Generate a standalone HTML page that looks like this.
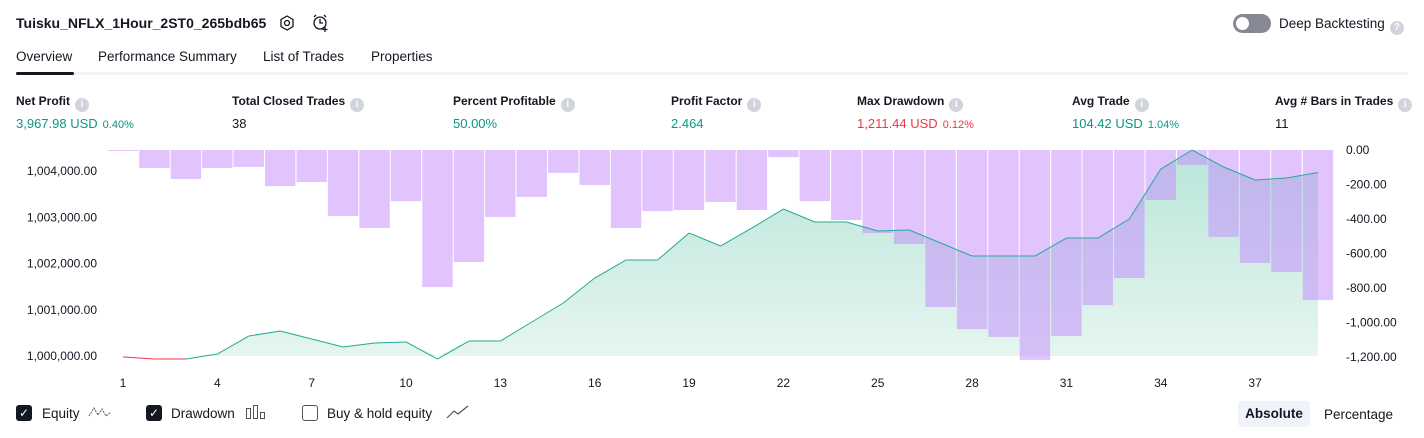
<!DOCTYPE html>
<html><head><meta charset="utf-8">
<style>
body{margin:0;width:1424px;height:438px;background:#fff;font-family:"Liberation Sans",sans-serif;color:#131722;position:relative;overflow:hidden}
.a{position:absolute;white-space:nowrap}
.lbl{font-size:12px;font-weight:bold;color:#131722}
.val{font-size:13px}
.g{color:#089981}.r{color:#f23645}
.pct{font-size:11px;margin-left:5px}
.info{display:inline-block;width:14px;height:14px;border-radius:50%;background:#d1d4dc;color:#fff;font-size:10px;text-align:center;line-height:14px;vertical-align:-2px;margin-left:5px;font-weight:bold}
.cb{width:16px;height:16px;border-radius:3px;background:#131722;color:#fff;font-size:12px;text-align:center;line-height:16px}
.cbu{width:14px;height:14px;border-radius:3px;border:1px solid #50535e;background:#fff}
.tab{font-size:13.5px;color:#131722}
</style></head><body>
<div class="a" style="left:16px;top:15px;font-size:14px;font-weight:bold">Tuisku_NFLX_1Hour_2ST0_265bdb65</div>
<svg class="a" style="left:278px;top:14px" width="18" height="18"><polygon points="9,2 15,5.5 15,12.5 9,16 3,12.5 3,5.5" fill="none" stroke="#131722" stroke-width="1.3"/><circle cx="9" cy="9" r="2.5" fill="none" stroke="#131722" stroke-width="1.3"/></svg>
<svg class="a" style="left:311px;top:13px" width="20" height="20"><circle cx="9" cy="10" r="6" fill="none" stroke="#131722" stroke-width="1.3"/><path d="M9 6v4h3M3 4l2-2M15 4l-2-2M14 14v5M11.5 16.5h5" fill="none" stroke="#131722" stroke-width="1.3"/></svg>
<div class="a" style="left:1233px;top:14px;width:38px;height:19px;border-radius:10px;background:#868993"><div style="position:absolute;left:3px;top:3px;width:13px;height:13px;border-radius:50%;background:#fff"></div></div>
<div class="a" style="left:1279px;top:16px;font-size:13.5px">Deep Backtesting<span class="info">?</span></div>
<div class="a tab" style="left:16px;top:49px">Overview</div>
<div class="a tab" style="left:98px;top:49px">Performance Summary</div>
<div class="a tab" style="left:263px;top:49px">List of Trades</div>
<div class="a tab" style="left:371px;top:49px">Properties</div>
<div class="a" style="left:16px;top:72px;width:1392px;height:3px;background:#f0f3fa"></div>
<div class="a" style="left:16px;top:72px;width:58px;height:3px;border-radius:2px;background:#131722"></div>

<div class="a" style="left:16px;top:94px"><div class="lbl">Net Profit<span class="info">i</span></div><div class="val g" style="margin-top:4px">3,967.98 USD<span class="pct">0.40%</span></div></div>
<div class="a" style="left:232px;top:94px"><div class="lbl">Total Closed Trades<span class="info">i</span></div><div class="val" style="margin-top:4px">38</div></div>
<div class="a" style="left:453px;top:94px"><div class="lbl">Percent Profitable<span class="info">i</span></div><div class="val g" style="margin-top:4px">50.00%</div></div>
<div class="a" style="left:671px;top:94px"><div class="lbl">Profit Factor<span class="info">i</span></div><div class="val g" style="margin-top:4px">2.464</div></div>
<div class="a" style="left:857px;top:94px"><div class="lbl">Max Drawdown<span class="info">i</span></div><div class="val r" style="margin-top:4px">1,211.44 USD<span class="pct">0.12%</span></div></div>
<div class="a" style="left:1072px;top:94px"><div class="lbl">Avg Trade<span class="info">i</span></div><div class="val g" style="margin-top:4px">104.42 USD<span class="pct">1.04%</span></div></div>
<div class="a" style="left:1275px;top:94px"><div class="lbl">Avg # Bars in Trades<span class="info">i</span></div><div class="val" style="margin-top:4px">11</div></div>

<svg class="a" style="left:0;top:0" width="1424" height="438" id="chart">
<defs><linearGradient id="fillg" x1="0" y1="0" x2="0" y2="1"><stop offset="0" stop-color="#b9e6da"/><stop offset="1" stop-color="#e6f5f0"/></linearGradient></defs>
</svg>

<div class="a cb" style="left:16px;top:405px">✓</div>
<div class="a" style="left:42px;top:406px;font-size:13.5px">Equity</div>
<svg class="a" style="left:88px;top:404px" width="24" height="16"><polyline points="1,12 6,4 10,11 14,5 18,12 23,8" fill="none" stroke="#50535e" stroke-width="1" stroke-dasharray="2,1"/></svg>
<div class="a cb" style="left:146px;top:405px">✓</div>
<div class="a" style="left:171px;top:406px;font-size:13.5px">Drawdown</div>
<svg class="a" style="left:245px;top:404px" width="22" height="16"><rect x="1.5" y="4.5" width="4" height="10" fill="none" stroke="#50535e"/><rect x="8.5" y="1.5" width="4" height="13" fill="none" stroke="#50535e"/><rect x="15.5" y="8.5" width="4" height="6" fill="none" stroke="#50535e"/></svg>
<div class="a cbu" style="left:302px;top:405px"></div>
<div class="a" style="left:327px;top:406px;font-size:13.5px">Buy &amp; hold equity</div>
<svg class="a" style="left:446px;top:404px" width="24" height="16"><polyline points="1,14 8,7 12,10 22,2" fill="none" stroke="#50535e" stroke-width="1.2"/></svg>
<div class="a" style="left:1238px;top:401px;width:72px;height:26px;border-radius:4px;background:#f0f3fa;font-size:13.5px;font-weight:bold;text-align:center;line-height:26px">Absolute</div>
<div class="a" style="left:1324px;top:407px;font-size:13.5px">Percentage</div>

<script>
const trades = [1,2,3,4,5,6,7,8,9,10,11,12,13,14,15,16,17,18,19,20,21,22,23,24,25,26,27,28,29,30,31,32,33,34,35,36,37,38,39];
const equity = [999980,999935,999935,1000043,1000432,1000540,1000367,1000195,1000281,1000303,999935,1000324,1000324,1000735,1001146,1001686,1002076,1002076,1002660,1002378,1002768,1003178,1002897,1002897,1002703,1002724,1002443,1002162,1002162,1002162,1002551,1002551,1002962,1004043,1004454,1004086,1003805,1003849,1003968];
const drawdown = [-5,-104,-168,-104,-98,-209,-186,-383,-452,-296,-794,-649,-388,-272,-133,-203,-452,-354,-348,-301,-348,-41,-296,-406,-481,-545,-910,-1038,-1084,-1217,-1078,-899,-742,-290,-87,-504,-655,-707,-870];
const equityTicks = [1000000,1001000,1002000,1003000,1004000];
const ddTicks = [0,-200,-400,-600,-800,-1000,-1200];
const xTicks = [1,4,7,10,13,16,19,22,25,28,31,34,37];

const NS='http://www.w3.org/2000/svg';
const svg=document.getElementById('chart');
const n=trades.length;
const step=(1318-123)/(n-1);
const X=i=>123+(i-1)*step;
const YE=v=>356-(v-1000000)*0.04625;
const YD=v=>150-v*0.1725;
function mk(t,a,p){const e=document.createElementNS(NS,t);for(const k in a)e.setAttribute(k,a[k]);(p||svg).appendChild(e);return e;}

let pts=trades.map((t,i)=>X(t).toFixed(1)+','+Math.min(YE(equity[i]),356).toFixed(1));
const fill=mk('polygon',{points:X(1)+',356 '+pts.join(' ')+' '+X(n)+',356',fill:'url(#fillg)'});



drawdown.forEach((d,i)=>{
  const x=X(trades[i])-step/2+0.5;
  const b=mk('rect',{x:x.toFixed(1),y:150,width:(step-1).toFixed(1),height:Math.max(YD(d)-150,1).toFixed(1),fill:'rgb(195,135,253)','fill-opacity':0.5});
  
  
});

for(let i=0;i<n-1;i++){
  const below=equity[i]<1000000&&equity[i+1]<1000000;
  const l=mk('line',{x1:X(trades[i]),y1:YE(equity[i]),x2:X(trades[i+1]),y2:YE(equity[i+1]),stroke:below?'#f23645':'#22ab94','stroke-width':1});
  
  
}

equityTicks.forEach(v=>{
  const t=mk('text',{x:97,y:YE(v)+4,'text-anchor':'end','font-size':12,fill:'#131722','font-family':'Liberation Sans'});
  t.textContent=v.toLocaleString('en-US')+'.00';
  
  
});
ddTicks.forEach(v=>{
  const t=mk('text',{x:1346,y:YD(v)+4,'font-size':12,fill:'#131722','font-family':'Liberation Sans'});
  t.textContent=(v<0?'-':'')+Math.abs(v).toLocaleString('en-US')+'.00';
  
  
});
xTicks.forEach(v=>{
  const t=mk('text',{x:X(v),y:387,'text-anchor':'middle','font-size':12,fill:'#131722','font-family':'Liberation Sans'});
  t.textContent=v;
  
  
});
</script>
</body></html>
